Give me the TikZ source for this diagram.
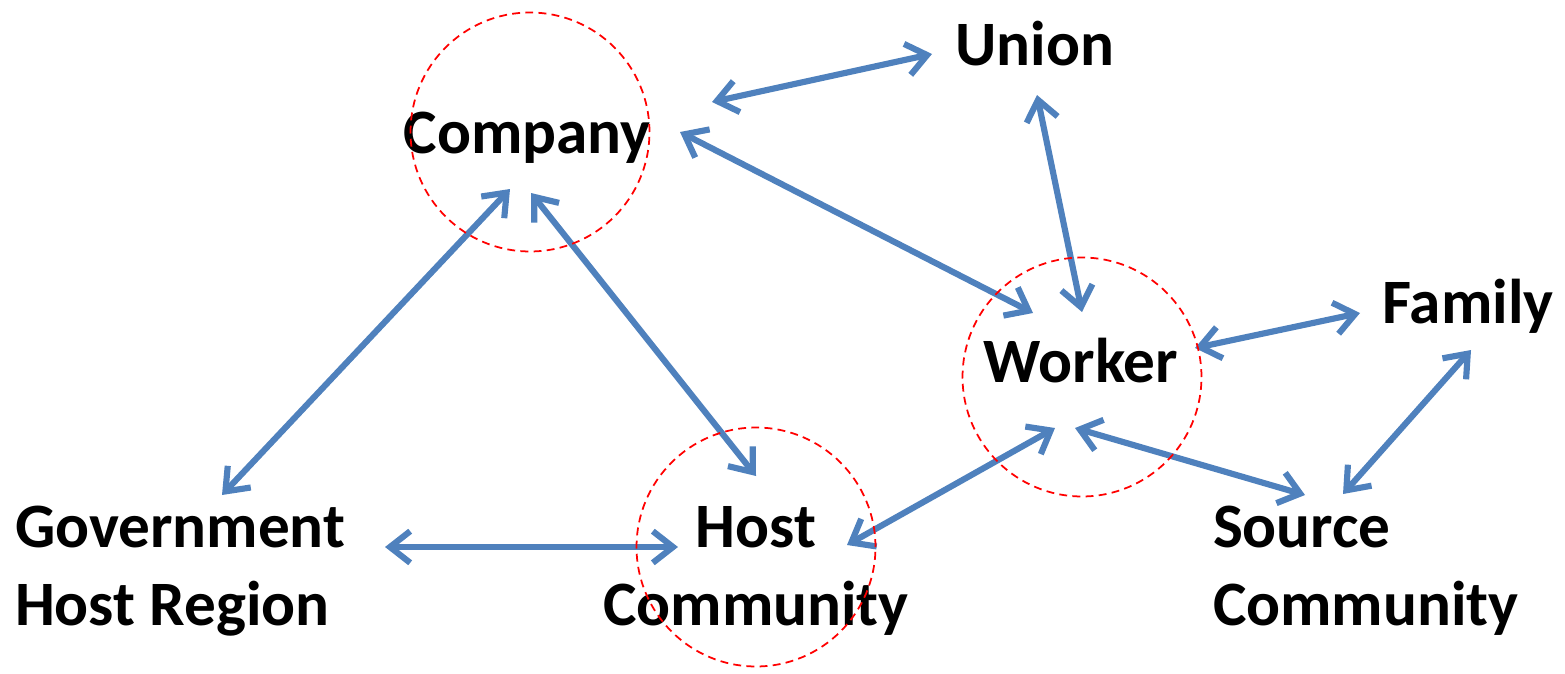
\documentclass[tikz,border=0pt]{standalone}
\usepackage{fontspec}
\setmainfont{Carlito}
\usepackage{tikz}
\usetikzlibrary{arrows.meta}
\definecolor{linkblue}{RGB}{79, 129, 189}
\definecolor{ringred}{RGB}{255, 0, 0}

\begin{document}
\begin{tikzpicture}[x=0.02cm, y=-0.02cm,
    actor/.style={font=\fontsize{36}{44}\selectfont\bfseries, inner sep=0pt, outer sep=0pt},
    link/.style={draw=linkblue, line width=3.5pt,
      {Straight Barb[length=11.5pt,width=18pt]}-{Straight Barb[length=11.5pt,width=18pt]}},
    ring/.style={circle, draw=ringred, line width=1pt, dash pattern=on 4.5pt off 3pt,
      minimum size=4.78cm, inner sep=0pt}]
  \useasboundingbox (0,0) rectangle (1565,673);

  % Label: the actors
  \node[actor, anchor=base] (company) at (527,153) {Company};
  \node[actor, anchor=base] (union) at (1035,65) {Union};
  \node[actor, anchor=base] (family) at (1468,323) {Family};
  \node[actor, anchor=base] (worker) at (1081,382) {Worker};
  % two-line labels: base is the last line
  \node[actor, anchor=base west, align=left] (government) at (15,625) {Government\\Host Region};
  \node[actor, anchor=base, align=center] (host) at (756,625) {Host\\Community};
  \node[actor, anchor=base west, align=left] (source) at (1213,625) {Source\\Community};

  % arrow ends next to each actor
  \coordinate (cmp-uni) at (712,102);  \coordinate (uni-cmp) at (932,54);
  \coordinate (cmp-wkr) at (680,132);  \coordinate (wkr-cmp) at (1033,313);
  \coordinate (uni-wkr) at (1037,95);  \coordinate (wkr-uni) at (1082,312);
  \coordinate (wkr-fam) at (1195,348); \coordinate (fam-wkr) at (1360,313);
  \coordinate (fam-src) at (1471,350); \coordinate (src-fam) at (1343,494);
  \coordinate (wkr-src) at (1075,428); \coordinate (src-wkr) at (1305,495);
  \coordinate (wkr-hst) at (1055,428); \coordinate (hst-wkr) at (847,545);
  \coordinate (cmp-hst) at (531,193);  \coordinate (hst-cmp) at (756,476);
  \coordinate (cmp-gov) at (510,189);  \coordinate (gov-cmp) at (222,495);
  \coordinate (gov-hst) at (385,547);  \coordinate (hst-gov) at (678,547);

  % relations
  \foreach \a/\b in {cmp-uni/uni-cmp, cmp-wkr/wkr-cmp, uni-wkr/wkr-uni,
                     wkr-fam/fam-wkr, fam-src/src-fam, wkr-src/src-wkr,
                     wkr-hst/hst-wkr, cmp-hst/hst-cmp, cmp-gov/gov-cmp,
                     gov-hst/hst-gov} {
    \draw[link] (\a) -- (\b);
  }

  % dashed rings round the key actors
  \node[ring] (ring-company) at (530,132) {};
  \node[ring] (ring-worker) at (1082,377) {};
  \node[ring] (ring-host) at (756,547) {};
\end{tikzpicture}
\end{document}
